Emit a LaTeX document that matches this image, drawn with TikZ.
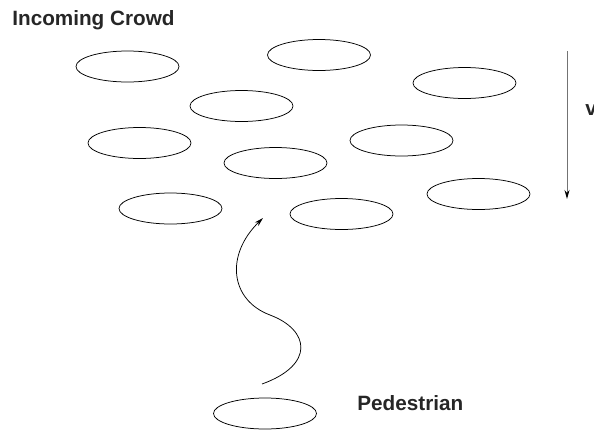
\documentclass[tikz,border=0pt]{standalone}
\usepackage{fontspec}
\setmainfont{Liberation Sans}
\usetikzlibrary{shapes.geometric,arrows.meta}

\tikzset{
  person/.style={draw,ellipse,line width=.75pt,minimum width=103pt,minimum height=31pt,inner sep=0pt},
  lbl/.style={font=\fontsize{20.7}{24}\selectfont\bfseries,inner sep=0pt,text=black!85,anchor=base west}
}

\begin{document}
\begin{tikzpicture}[x=1pt,y=-1pt,line width=.75pt]
\useasboundingbox (0,0) rectangle (594,432);
% crowd
\node[person] (p1) at (127.5,66.5) {};
\node[person] (p2) at (319,55) {};
\node[person] (p3) at (464.5,83) {};
\node[person] (p4) at (241.5,106) {};
\node[person] (p5) at (139.5,143) {};
\node[person] (p6) at (401.5,140.5) {};
\node[person] (p7) at (275.5,163) {};
\node[person] (p8) at (170.5,208.5) {};
\node[person] (p9) at (478.5,194) {};
\node[person] (p10) at (341.5,214) {};
% pedestrian
\node[person] (ped) at (265,413.5) {};
\node[lbl] (pedlbl) at (357,410) {Pedestrian};
\node[lbl] (crowd) at (12,25) {Incoming Crowd};
% velocity
\coordinate (vtop) at (567,51);
\coordinate (vbot) at (567,199);
\draw[black!55,line width=1pt,-{Stealth[length=9pt,width=5pt,black]}] (vtop)--(vbot);
\node[lbl] (v) at (585,115) {v};
% path of the pedestrian
\coordinate (start) at (262,384);
\coordinate (goal) at (263,218);
\draw[-{Stealth[length=9pt,width=5pt]}] (start)..controls (315,365) and (310,330)..(270,315)
  ..controls (230,300) and (225,255)..(goal);
\end{tikzpicture}
\end{document}
